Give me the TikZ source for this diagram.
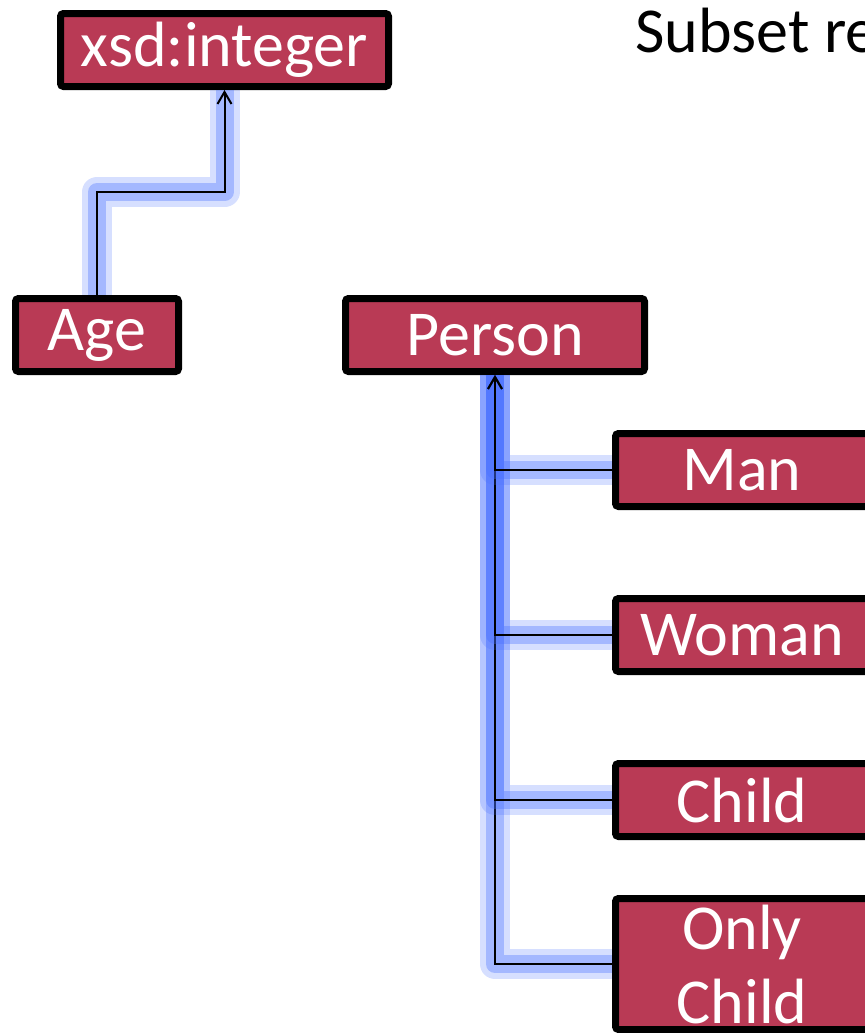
\documentclass[tikz,border=0pt]{standalone}
\usepackage{fontspec}
\setmainfont{Carlito}
\definecolor{ontoRed}{RGB}{185,58,85}
\definecolor{ontoGlow}{RGB}{70,110,255}
\usetikzlibrary{arrows.meta,positioning}

\begin{document}
\begin{tikzpicture}[x=0.5pt, y=-0.5pt,
  box/.style={draw=black, line width=3.5pt, rounded corners=1.5pt, fill=ontoRed,
              text=white, font=\fontsize{32}{37}\selectfont, align=center,
              minimum height=36.5pt, inner sep=0pt},
  isa/.style={draw=black, line width=1pt, -{Straight Barb[length=6pt,width=7pt]},
              preaction={draw=ontoGlow, draw opacity=0.22, line width=15pt,
                         line join=round, -},
              preaction={draw=ontoGlow, draw opacity=0.35, line width=9pt,
                         line join=round, -}}
]
  \clip (0,0) rectangle (865,1033);

  \node[anchor=base west, inner sep=0pt, font=\fontsize{32}{37}\selectfont]
        (title) at (635,52) {Subset re};

  \node[box, minimum width=164pt]   (xsd)    at (224.5,50) {xsd:integer};
  \node[box, minimum width=81.5pt]  (age)    at (97,335)   {Age};
  \node[box, minimum width=149.5pt] (person) at (495,335)  {Person};

  \node[box, minimum width=126.5pt]                      (man)   at (742,470) {Man};
  \node[box, minimum width=126.5pt, below=42.5pt of man]   (woman) {Woman};
  \node[box, minimum width=126.5pt, below=42.5pt of woman] (child) {Child};
  \node[box, minimum width=126.5pt, minimum height=65.5pt,
        below=27.5pt of child]                           (only)  {Only\\Child};

  \draw[isa] (age.north) -- ++(0,-103) -| (xsd.south);
  \draw[isa] (only.west)  -| (person.south);
  \draw[isa] (child.west) -| (person.south);
  \draw[isa] (woman.west) -| (person.south);
  \draw[isa] (man.west)   -| (person.south);
\end{tikzpicture}
\end{document}
